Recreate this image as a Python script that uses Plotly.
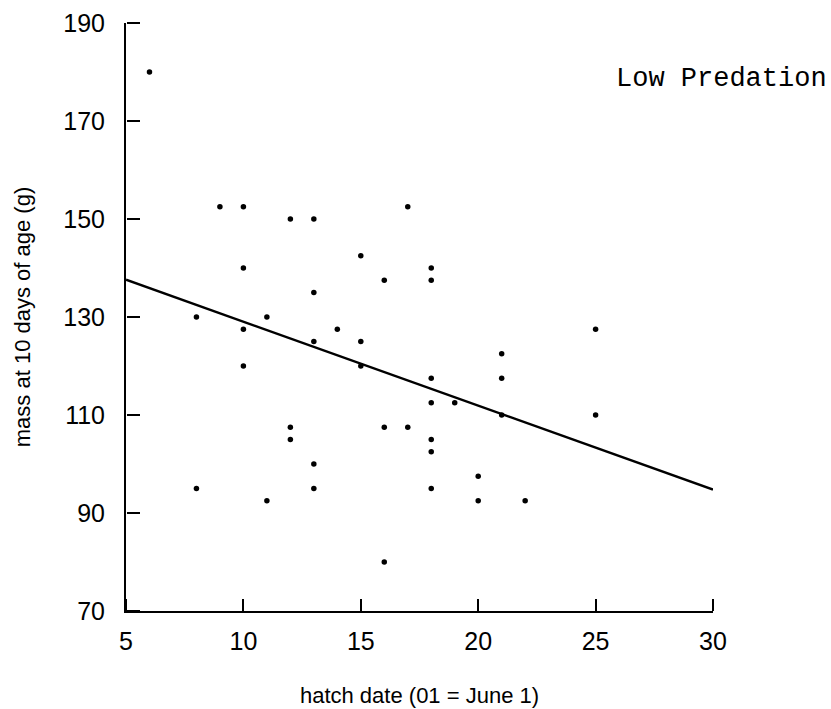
import plotly.graph_objects as go

# hatch date (day of June) and mass at 10 days of age (g)
hatch_date = [6, 8, 8, 9, 10, 10, 10, 10, 11, 11, 12, 12, 12,
              13, 13, 13, 13, 13, 14, 15, 15, 15, 16, 16, 16,
              17, 17, 18, 18, 18, 18, 18, 18, 18, 19, 20, 20,
              21, 21, 21, 22, 25, 25]
mass_g = [180, 130, 95, 152.5, 152.5, 140, 127.5, 120, 130, 92.5, 150, 107.5, 105,
          150, 135, 125, 100, 95, 127.5, 142.5, 125, 120, 137.5, 107.5, 80,
          152.5, 107.5, 140, 137.5, 117.5, 112.5, 105, 102.5, 95, 112.5, 97.5, 92.5,
          122.5, 117.5, 110, 92.5, 127.5, 110]

# regression line endpoints
fit_x = [5, 30]
fit_y = [137.6, 94.8]

x_range = [5, 30]
y_range = [70, 190]
x_ticks = [5, 10, 15, 20, 25, 30]
y_ticks = [70, 90, 110, 130, 150, 170, 190]

tick_font = dict(family="Liberation Sans, Arial, sans-serif", size=25, color="black")
title_font = dict(family="Liberation Sans, Arial, sans-serif", size=22, color="black")

fig = go.Figure()
fig.add_trace(go.Scatter(x=hatch_date, y=mass_g, mode="markers",
                         marker=dict(color="black", size=5.5),
                         showlegend=False))
fig.add_trace(go.Scatter(x=fit_x, y=fit_y, mode="lines",
                         xaxis="x2", yaxis="y2",
                         line=dict(color="black", width=2.5),
                         showlegend=False))

common = dict(showgrid=False, zeroline=False)

fig.update_layout(
    template="none",
    width=831, height=709,
    margin=dict(l=126, r=118, t=23, b=98),
    paper_bgcolor="white", plot_bgcolor="white",
    xaxis=dict(range=x_range, tickmode="array", tickvals=x_ticks, ticks="",
               showline=True, linewidth=2, linecolor="black",
               tickfont=tick_font, ticklabelstandoff=7,
               title=dict(text="hatch date (01 = June 1)", font=title_font,
                          standoff=34), **common),
    yaxis=dict(range=y_range, tickmode="array", tickvals=y_ticks, ticks="",
               showline=True, linewidth=2, linecolor="black",
               tickfont=tick_font, ticklabelstandoff=14,
               title=dict(text="mass at 10 days of age (g)", font=title_font,
                          standoff=27), **common),
    # companion axes that draw the inward-pointing ticks
    xaxis2=dict(range=x_range, overlaying="x", side="top", anchor="free",
                position=0, tickmode="array", tickvals=x_ticks,
                ticks="outside", ticklen=12, tickwidth=2, tickcolor="black",
                showticklabels=False, showline=False, **common),
    yaxis2=dict(range=y_range, overlaying="y", side="right", anchor="free",
                position=0, tickmode="array", tickvals=y_ticks,
                ticks="outside", ticklen=13, tickwidth=2, tickcolor="black",
                showticklabels=False, showline=False, **common),
    annotations=[dict(text="Low Predation", xref="paper", yref="paper",
                      x=0.831, y=0.904, xanchor="left", yanchor="middle",
                      showarrow=False,
                      font=dict(family="Liberation Mono, Courier New, monospace",
                                size=27, color="black"))],
)

fig.write_html("out.html")
